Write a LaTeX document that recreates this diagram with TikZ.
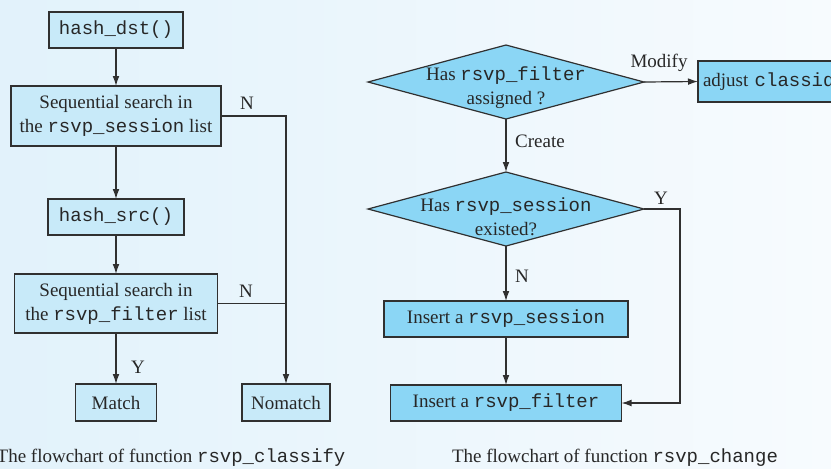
\documentclass[tikz,border=0pt]{standalone}
\usepackage{fontspec}
\setmainfont{Liberation Serif}
\setmonofont{Liberation Mono}
\usetikzlibrary{positioning,shapes.geometric,arrows.meta}

\definecolor{paleblue}{HTML}{C8EAF9}
\definecolor{skyblue}{HTML}{8BD6F5}
\definecolor{bgleft}{HTML}{E2F2FB}
\definecolor{bgright}{HTML}{F7FBFE}
\definecolor{inkgray}{HTML}{303030}

\begin{document}
\begin{tikzpicture}[
	x=0.5pt, y=-0.5pt,
	font=\fontsize{9.5}{12}\selectfont,
	text=inkgray!80!black,
	box/.style = {
		draw=inkgray, line width=0.6pt, rectangle, align=center,
		inner sep=0pt, outer sep=0pt},
	lbox/.style = {box, fill=paleblue},
	rbox/.style = {box, fill=skyblue},
	decision/.style = {
		draw=inkgray, line width=0.6pt, diamond, fill=skyblue,
		inner sep=0pt, outer sep=0pt,
		minimum width=138pt, minimum height=37pt},
	arrow/.style = {line width=0.6pt, draw=inkgray, -{Latex[length=5pt,width=3.4pt]}},
	line/.style = {line width=0.6pt, draw=inkgray}
]
\path[use as bounding box] (0,0) rectangle (831,468);
\clip (0,0) rectangle (831,468);
\shade[left color=bgleft, right color=bgright] (0,0) rectangle (831,468);

% rsvp_classify
\node (n1) [lbox, minimum width=67pt, minimum height=18pt] at (116,30)
	{\texttt{hash\_dst()}};
\node (n2) [lbox, minimum width=105pt, minimum height=30pt] at (116,116)
	{Sequential search in\\ the \texttt{rsvp\_session} list};
\node (n3) [lbox, minimum width=68pt, minimum height=18pt] at (116,217)
	{\texttt{hash\_src()}};
\node (n4) [lbox, minimum width=101.5pt, minimum height=29.5pt] at (116,303.5)
	{Sequential search in\\ the \texttt{rsvp\_filter} list};
\node (n5) [lbox, minimum width=40.5pt, minimum height=18.5pt] at (116,402.5) {Match};
\node (n6) [lbox, minimum width=44pt, minimum height=18.5pt] at (286,402.5) {Nomatch};

\draw[arrow] (n1) -- (n2);
\draw[arrow] (n2) -- (n3);
\draw[arrow] (n3) -- (n4);
\draw[arrow] (n4) -- (n5);
\draw[arrow] (n2.east) -- (n2.east -| n6) -- (n6.north);
\draw[line] (n4.east) -- (n4.east -| n6);

\node (n2N) at (247,103) {N};
\node (n4N) at (246,291) {N};
\node (n4Y) at (138,367) {Y};

\node (cap1) [anchor=base] at (171,462) {The flowchart of function \texttt{rsvp\_classify}};

% rsvp_change
\node (m1) [decision, label={[align=center, yshift=-3pt]center:Has \texttt{rsvp\_filter}\\ assigned ?}]
	at (506,82) {};
\node (m2) [decision, label={[align=center, yshift=-4pt]center:Has \texttt{rsvp\_session}\\ existed?}]
	at (506,209) {};
\node (m3) [rbox, anchor=west, text width=78pt, align=left, inner xsep=2.5pt,
	minimum height=20.5pt] at (698,81.5) {adjust \texttt{classid}};
\node (m4) [rbox, minimum width=122pt, minimum height=18pt] at (506,319)
	{Insert a \texttt{rsvp\_session}};
\node (m5) [rbox, minimum width=115.5pt, minimum height=18pt] at (506,403)
	{Insert a \texttt{rsvp\_filter}};

\draw[arrow] (m1.east) -- (m3.west);
\draw[arrow] (m1.south) -- (m2.north);
\draw[arrow] (m2.south) -- (m4.north);
\draw[arrow] (m4) -- (m5);
\draw[arrow] (m2.east) -- ++(36,0) |- (m5.east);

\node (m1M) at (659,63) {Modify};
\node (m1C) at (540,141) {Create};
\node (m2Y) at (661,198) {Y};
\node (m2N) at (522,276) {N};

\node (cap2) [anchor=base] at (615,462) {The flowchart of function \texttt{rsvp\_change}};
\end{tikzpicture}
\end{document}
